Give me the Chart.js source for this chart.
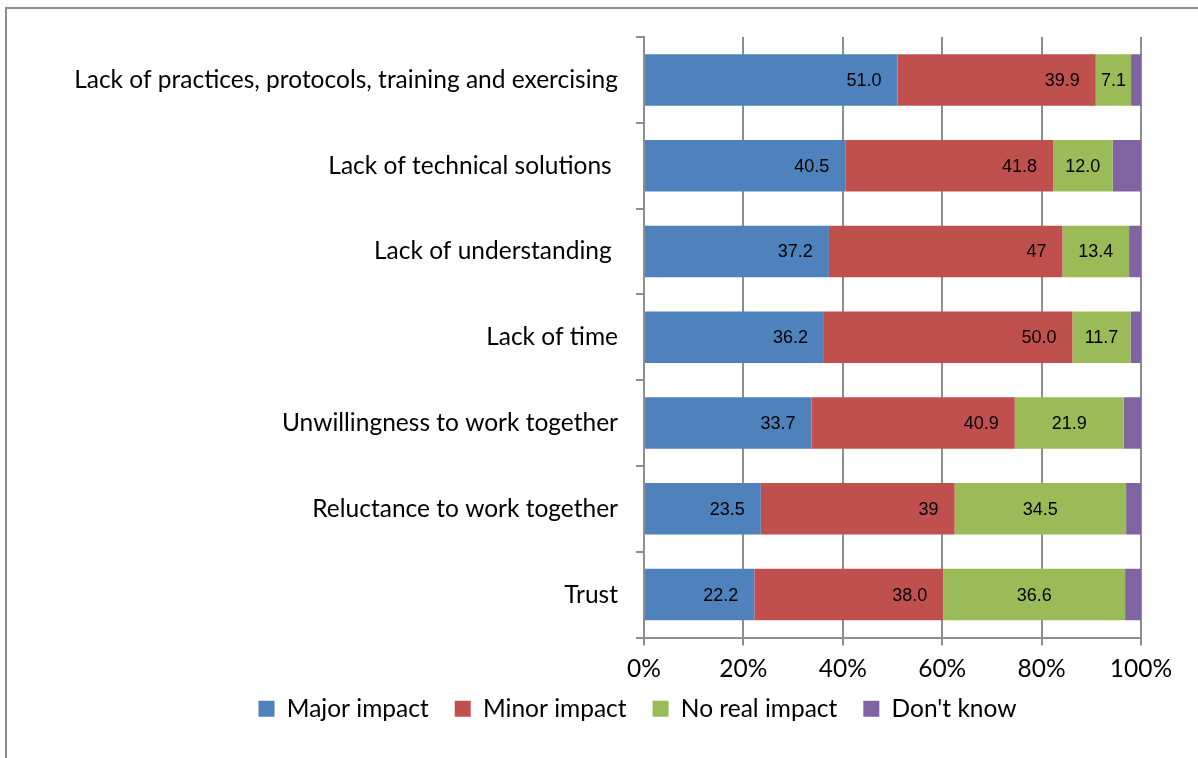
<!DOCTYPE html>
<html>
<head>
<meta charset="utf-8">
<script src="https://cdn.jsdelivr.net/npm/chart.js@4.4.0/dist/chart.umd.min.js"></script>
<style>
  html, body { margin: 0; padding: 0; background: #fff; overflow: hidden; }
  #wrap { position: relative; width: 1198px; height: 758px; }
  #frame { position: absolute; left: 5px; top: 7px; width: 1300px; height: 900px;
           border-left: 2px solid #8c8c8c; border-top: 2px solid #8c8c8c; }
  canvas { position: absolute; left: 0; top: 0; }
</style>
</head>
<body>
<div id="wrap">
  <div id="frame"></div>
  <canvas id="grafico" width="1198" height="758"></canvas>
</div>
<script>
// categorias (de cima para baixo)
const categorias = [
  'Lack of practices, protocols, training and exercising',
  'Lack of technical solutions ',
  'Lack of understanding ',
  'Lack of time',
  'Unwillingness to work together',
  'Reluctance to work together',
  'Trust'
];

// valores em %, guardados como texto para manter o rotulo igual ao original
const majorImpact = ['51.0', '40.5', '37.2', '36.2', '33.7', '23.5', '22.2'];
const minorImpact = ['39.9', '41.8', '47', '50.0', '40.9', '39', '38.0'];
const noRealImpact = ['7.1', '12.0', '13.4', '11.7', '21.9', '34.5', '36.6'];
const dontKnow = ['2.0', '5.7', '2.4', '2.1', '3.5', '3.0', '3.2'];

const rotulosEixoX = ['0%', '20%', '40%', '60%', '80%', '100%'];

const fonteTexto = 'Lato, "Noto Sans", sans-serif';
const tamanhoTexto = 24.5;
const corGrade = '#8e8e8e';

// desenha os numeros dentro das barras
const rotulosPlugin = {
  id: 'rotulos',
  afterDatasetsDraw(chart) {
    const ctx = chart.ctx;
    ctx.save();
    ctx.font = '18px "Liberation Sans", Arial, sans-serif';
    ctx.fillStyle = '#000';
    ctx.textBaseline = 'middle';
    chart.data.datasets.forEach((ds, i) => {
      if (!ds.rotulo) return;
      chart.getDatasetMeta(i).data.forEach((barra, j) => {
        const texto = ds.data[j];
        if (ds.rotulo === 'fim') {
          ctx.textAlign = 'right';
          ctx.fillText(texto, barra.x - 16, barra.y + 1);
        } else {
          ctx.textAlign = 'center';
          ctx.fillText(texto, (barra.x + barra.base) / 2, barra.y + 1);
        }
      });
    });
    ctx.restore();
  }
};

// legenda um pouco deslocada, como no original
const ajusteLegenda = {
  id: 'ajusteLegenda',
  afterLayout(chart) {
    const leg = chart.legend;
    leg.left += 47; leg.right += 47;
    leg.top -= 15; leg.bottom -= 15;
  }
};

const ctx = document.getElementById('grafico').getContext('2d');

new Chart(ctx, {
  type: 'bar',
  data: {
    labels: categorias,
    datasets: [
      { label: 'Major impact', data: majorImpact, backgroundColor: '#4F81BD', rotulo: 'fim' },
      { label: 'Minor impact', data: minorImpact, backgroundColor: '#C0504D', rotulo: 'fim' },
      { label: 'No real impact', data: noRealImpact, backgroundColor: '#9BBB59', rotulo: 'centro' },
      { label: "Don't know", data: dontKnow, backgroundColor: '#8064A2' }
    ]
  },
  options: {
    indexAxis: 'y',
    responsive: false,
    animation: false,
    barPercentage: 0.6,
    categoryPercentage: 1,
    layout: { padding: { top: 37, left: 40, right: 57, bottom: 12 } },
    scales: {
      x: {
        stacked: true,
        min: 0,
        max: 100,
        grid: { color: corGrade, lineWidth: 2, tickLength: 8 },
        border: { color: corGrade, width: 2 },
        ticks: {
          stepSize: 20,
          color: '#000',
          padding: 9,
          font: { family: fonteTexto, size: tamanhoTexto },
          callback: (v, i) => rotulosEixoX[i]
        },
        afterFit(scale) { scale.height = 48; }
      },
      y: {
        stacked: true,
        grid: { drawOnChartArea: false, color: corGrade, lineWidth: 2, tickLength: 8 },
        border: { color: corGrade, width: 2 },
        ticks: {
          color: '#000',
          padding: 18,
          font: { family: fonteTexto, size: tamanhoTexto }
        },
        afterFit(scale) { scale.width = 644 - 40; }
      }
    },
    plugins: {
      legend: {
        position: 'bottom',
        labels: {
          boxWidth: 16,
          boxHeight: 16,
          padding: 26,
          color: '#000',
          font: { family: fonteTexto, size: tamanhoTexto }
        }
      },
      tooltip: { enabled: false }
    }
  },
  plugins: [rotulosPlugin, ajusteLegenda]
});
</script>
</body>
</html>
